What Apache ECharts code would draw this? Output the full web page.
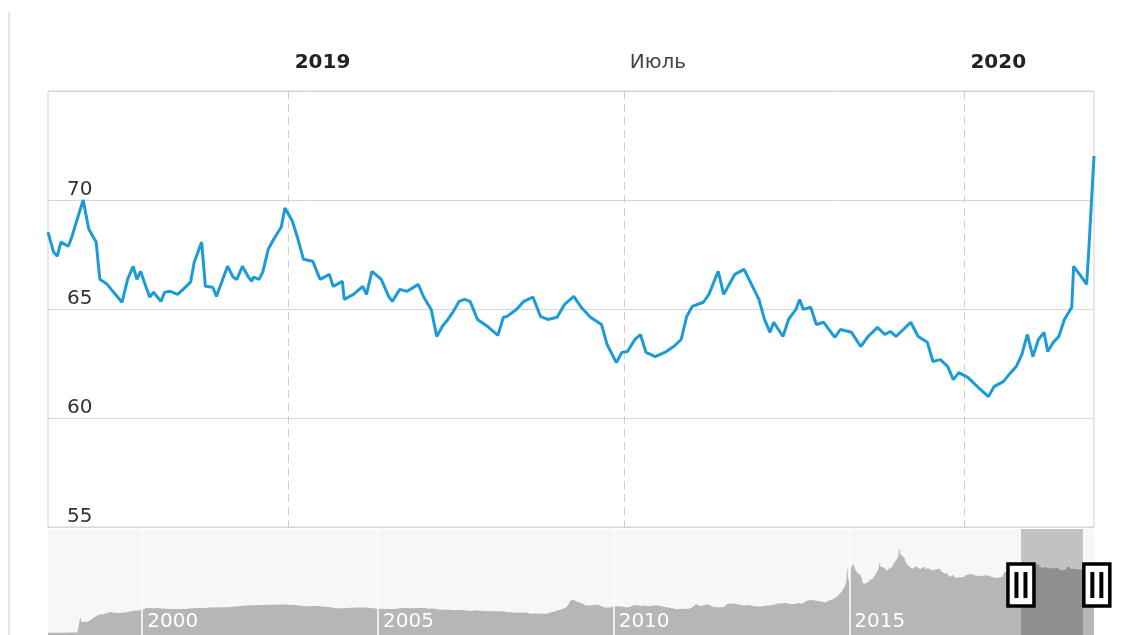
<!DOCTYPE html>
<html>
<head>
<meta charset="utf-8">
<script src="https://cdn.jsdelivr.net/npm/echarts@6/dist/echarts.min.js"></script>
<style>
html,body{margin:0;padding:0;background:#fff;}
#chart{width:1126px;height:635px;}
</style>
</head>
<body>
<div id="chart"></div>
<script>
// ---- main series (USD/RUB, Aug 2018 – Mar 2020) ----
const mainDates = [
'2018-08-24','2018-08-27','2018-08-29','2018-08-31','2018-09-04','2018-09-06','2018-09-08','2018-09-12','2018-09-15','2018-09-19',
'2018-09-21','2018-09-25','2018-09-28','2018-10-03','2018-10-06','2018-10-09','2018-10-11','2018-10-13','2018-10-16','2018-10-18',
'2018-10-20','2018-10-24','2018-10-26','2018-10-29','2018-11-02','2018-11-05','2018-11-09','2018-11-11','2018-11-15','2018-11-17',
'2018-11-21','2018-11-23','2018-11-25','2018-11-29','2018-12-02','2018-12-04','2018-12-07','2018-12-10','2018-12-12','2018-12-13',
'2018-12-16','2018-12-18','2018-12-21','2018-12-24','2018-12-28','2018-12-30','2019-01-03','2019-01-06','2019-01-09','2019-01-14',
'2019-01-18','2019-01-23','2019-01-25','2019-01-30','2019-01-31','2019-02-05','2019-02-10','2019-02-12','2019-02-15','2019-02-20',
'2019-02-24','2019-02-26','2019-03-02','2019-03-06','2019-03-12','2019-03-15','2019-03-19','2019-03-22','2019-03-25','2019-03-28',
'2019-03-31','2019-04-03','2019-04-06','2019-04-09','2019-04-13','2019-04-19','2019-04-24','2019-04-27','2019-04-29','2019-05-04',
'2019-05-08','2019-05-13','2019-05-17','2019-05-21','2019-05-26','2019-05-30','2019-06-04','2019-06-08','2019-06-13','2019-06-19',
'2019-06-22','2019-06-27','2019-06-30','2019-07-03','2019-07-07','2019-07-10','2019-07-13','2019-07-18','2019-07-24','2019-07-28',
'2019-08-01','2019-08-04','2019-08-07','2019-08-13','2019-08-16','2019-08-21','2019-08-24','2019-08-30','2019-09-04','2019-09-08',
'2019-09-12','2019-09-15','2019-09-18','2019-09-20','2019-09-25','2019-09-28','2019-10-02','2019-10-04','2019-10-06','2019-10-10',
'2019-10-13','2019-10-17','2019-10-23','2019-10-26','2019-11-01','2019-11-06','2019-11-10','2019-11-15','2019-11-19','2019-11-22',
'2019-11-25','2019-11-29','2019-12-03','2019-12-07','2019-12-12','2019-12-15','2019-12-19','2019-12-23','2019-12-26','2019-12-29',
'2020-01-03','2020-01-08','2020-01-14','2020-01-17','2020-01-22','2020-01-26','2020-01-29','2020-02-01','2020-02-04','2020-02-07',
'2020-02-10','2020-02-13','2020-02-15','2020-02-18','2020-02-21','2020-02-24','2020-02-28','2020-02-29','2020-03-04','2020-03-07',
'2020-03-08','2020-03-11'
];
const mainValues = [
68.53,67.61,67.42,68.07,67.88,68.34,68.90,70.00,68.67,68.07,
66.36,66.13,65.81,65.31,66.36,66.96,66.36,66.73,66.00,65.54,
65.77,65.35,65.77,65.81,65.67,65.90,66.23,67.15,68.07,66.04,
66.00,65.58,66.04,66.96,66.46,66.36,66.96,66.50,66.27,66.46,
66.36,66.69,67.75,68.21,68.76,69.63,69.03,68.21,67.28,67.19,
66.36,66.59,66.04,66.27,65.44,65.67,66.04,65.67,66.73,66.36,
65.58,65.35,65.90,65.81,66.13,65.54,64.98,63.74,64.20,64.52,
64.89,65.35,65.44,65.35,64.52,64.16,63.79,64.62,64.66,64.98,
65.35,65.54,64.66,64.52,64.62,65.21,65.58,65.08,64.62,64.29,
63.37,62.54,63.01,63.05,63.60,63.83,63.01,62.82,63.05,63.28,
63.60,64.66,65.12,65.31,65.67,66.73,65.67,66.59,66.82,66.13,
65.44,64.52,63.93,64.39,63.74,64.52,64.98,65.44,64.98,65.08,
64.29,64.39,63.70,64.06,63.93,63.28,63.74,64.16,63.83,63.97,
63.74,64.06,64.39,63.74,63.47,62.59,62.68,62.36,61.76,62.08,
61.85,61.44,60.98,61.44,61.67,62.08,62.36,62.91,63.83,62.82,
63.60,63.93,63.05,63.47,63.74,64.52,65.08,66.96,66.50,66.13,
67.42,72.02
];

// ---- navigator series (1998 – Mar 2020) ----
const navDates = [
'1998-01-01','1998-02-01','1998-03-01','1998-04-01','1998-05-01','1998-06-01','1998-07-01','1998-08-01','1998-08-17','1998-08-31','1998-09-09','1998-09-15','1998-10-01','1998-11-01','1998-12-01','1998-12-31',
'1999-02-01','1999-03-01','1999-04-01','1999-05-01','1999-06-01','1999-07-01','1999-08-01','1999-09-01','1999-10-01','1999-11-01','1999-12-01',
'2000-01-01','2000-02-01','2000-03-01','2000-04-01','2000-05-01','2000-06-01','2000-07-01','2000-08-01','2000-09-01','2000-10-01','2000-11-01','2000-12-01',
'2001-01-01','2001-02-01','2001-03-01','2001-04-01','2001-05-01','2001-06-01','2001-07-01','2001-08-01','2001-09-01','2001-10-01','2001-11-01','2001-12-01',
'2002-01-01','2002-02-01','2002-03-01','2002-04-01','2002-05-01','2002-06-01','2002-07-01','2002-08-01','2002-09-01','2002-10-01','2002-11-01','2002-12-01',
'2003-01-01','2003-02-01','2003-03-01','2003-04-01','2003-05-01','2003-06-01','2003-07-01','2003-08-01','2003-09-01','2003-10-01','2003-11-01','2003-12-01',
'2004-01-01','2004-02-01','2004-03-01','2004-04-01','2004-05-01','2004-06-01','2004-07-01','2004-08-01','2004-09-01','2004-10-01','2004-11-01','2004-12-01',
'2005-01-01','2005-02-01','2005-03-01','2005-04-01','2005-05-01','2005-06-01','2005-07-01','2005-08-01','2005-09-01','2005-10-01','2005-11-01','2005-12-01',
'2006-01-01','2006-02-01','2006-03-01','2006-04-01','2006-05-01','2006-06-01','2006-07-01','2006-08-01','2006-09-01','2006-10-01','2006-11-01','2006-12-01',
'2007-01-01','2007-02-01','2007-03-01','2007-04-01','2007-05-01','2007-06-01','2007-07-01','2007-08-01','2007-09-01','2007-10-01','2007-11-01','2007-12-01',
'2008-01-01','2008-02-01','2008-03-01','2008-04-01','2008-05-01','2008-06-01','2008-07-01','2008-08-01','2008-09-01','2008-10-01','2008-11-01','2008-12-01',
'2009-01-01','2009-02-01','2009-02-19','2009-03-01','2009-04-01','2009-05-01','2009-06-01','2009-07-01','2009-08-01','2009-09-01','2009-10-01','2009-11-01','2009-12-01',
'2010-01-01','2010-02-01','2010-03-01','2010-04-01','2010-05-01','2010-06-01','2010-07-01','2010-08-01','2010-09-01','2010-10-01','2010-11-01','2010-12-01',
'2011-01-01','2011-02-01','2011-03-01','2011-04-01','2011-05-01','2011-06-01','2011-07-01','2011-08-01','2011-09-01','2011-10-01','2011-11-01','2011-12-01',
'2012-01-01','2012-02-01','2012-03-01','2012-04-01','2012-05-01','2012-06-01','2012-07-01','2012-08-01','2012-09-01','2012-10-01','2012-11-01','2012-12-01',
'2013-01-01','2013-02-01','2013-03-01','2013-04-01','2013-05-01','2013-06-01','2013-07-01','2013-08-01','2013-09-01','2013-10-01','2013-11-01','2013-12-01',
'2014-01-01','2014-02-01','2014-03-01','2014-04-01','2014-05-01','2014-06-01','2014-07-01','2014-08-01','2014-09-01','2014-10-01','2014-11-01','2014-11-20','2014-12-01','2014-12-10','2014-12-16','2014-12-20','2014-12-26',
'2015-01-01','2015-01-15','2015-01-31','2015-02-05','2015-02-15','2015-03-01','2015-03-15','2015-04-01','2015-04-15','2015-05-01','2015-05-15','2015-06-01','2015-06-15','2015-07-01','2015-07-15','2015-08-01','2015-08-15','2015-08-25','2015-09-01','2015-09-15','2015-10-01','2015-10-15','2015-11-01','2015-11-15','2015-12-01','2015-12-15',
'2016-01-01','2016-01-15','2016-01-22','2016-02-01','2016-02-15','2016-03-01','2016-03-15','2016-04-01','2016-04-15','2016-05-01','2016-05-15','2016-06-01','2016-06-15','2016-07-01','2016-07-15','2016-08-01','2016-08-15','2016-09-01','2016-09-15','2016-10-01','2016-10-15','2016-11-01','2016-11-15','2016-12-01','2016-12-15',
'2017-01-01','2017-01-15','2017-02-01','2017-02-15','2017-03-01','2017-03-15','2017-04-01','2017-04-15','2017-05-01','2017-05-15','2017-06-01','2017-06-15','2017-07-01','2017-07-15','2017-08-01','2017-08-15','2017-09-01','2017-09-15','2017-10-01','2017-10-15','2017-11-01','2017-11-15','2017-12-01','2017-12-15',
'2018-01-01','2018-01-15','2018-02-01','2018-02-15','2018-03-01','2018-03-15','2018-04-01','2018-04-15','2018-05-01','2018-05-15','2018-06-01','2018-06-15','2018-07-01','2018-07-15','2018-08-01','2018-08-15','2018-09-01','2018-09-12','2018-10-01','2018-10-15','2018-11-01','2018-11-15','2018-12-01','2018-12-15',
'2019-01-01','2019-01-15','2019-02-01','2019-02-15','2019-03-01','2019-03-15','2019-04-01','2019-04-15','2019-05-01','2019-05-15','2019-06-01','2019-06-15','2019-07-01','2019-07-15','2019-08-01','2019-08-15','2019-09-01','2019-09-15','2019-10-01','2019-10-15','2019-11-01','2019-11-15','2019-12-01','2019-12-15',
'2020-01-01','2020-01-15','2020-02-01','2020-02-15','2020-03-01','2020-03-11'
];
const navValues = [
5.96,6.03,6.09,6.11,6.14,6.18,6.22,6.24,6.29,7.9,20.8,16.0,16.1,16.0,17.9,20.65,
22.6,22.9,24.2,25.0,24.4,24.2,24.4,24.8,25.6,26.1,26.4,
27.0,28.6,28.7,28.5,28.6,28.3,28.1,27.8,27.8,27.8,27.9,27.8,
28.2,28.4,28.7,28.7,28.8,29.1,29.1,29.3,29.3,29.4,29.5,29.8,
30.1,30.6,30.9,31.1,31.2,31.3,31.4,31.5,31.6,31.6,31.7,31.8,
31.8,31.8,31.5,31.4,31.1,30.6,30.4,30.4,30.6,30.6,29.9,29.8,
29.5,28.5,28.5,28.5,28.7,29.0,29.0,29.1,29.2,29.2,28.8,28.4,
27.7,28.0,27.8,27.8,27.8,28.1,28.7,28.6,28.4,28.5,28.8,28.8,
28.8,28.1,28.2,27.8,27.2,27.0,27.0,26.8,26.7,26.8,26.8,26.3,
26.3,26.6,26.3,26.0,25.8,25.9,25.8,25.5,25.7,24.9,24.9,24.4,
24.5,24.5,24.3,23.5,23.6,23.7,23.4,23.4,24.6,25.4,26.8,27.7,
29.4,35.4,36.4,35.7,34.0,33.0,31.0,31.1,31.2,31.8,30.1,28.9,29.2,
30.2,30.4,30.1,29.4,29.3,31.3,31.2,30.2,30.9,30.4,30.8,31.3,
30.5,29.7,29.2,28.4,27.5,27.9,28.1,27.8,29.2,32.1,30.5,31.0,
32.2,30.1,29.3,29.3,29.4,32.5,32.8,32.4,32.0,31.0,31.4,31.1,
30.4,30.0,30.2,31.1,31.1,31.9,32.8,33.0,33.3,32.4,32.4,33.2,
32.7,35.2,36.1,35.7,35.0,34.7,33.8,35.7,36.9,39.4,43.4,46.9,49.3,54.0,67.8,60.7,52.0,
56.2,65.5,68.9,69.7,64.5,61.3,62.0,58.5,51.6,50.8,49.7,52.9,54.8,55.5,57.1,61.0,65.0,70.8,66.4,67.9,65.5,62.5,64.1,65.8,66.7,70.0,
72.9,76.0,83.6,77.8,78.4,74.9,70.3,67.6,66.7,64.6,66.2,66.9,65.8,64.3,63.9,66.4,64.2,65.4,64.8,63.2,62.8,63.7,65.3,64.8,62.1,
60.7,59.6,60.0,57.0,58.5,58.8,56.4,56.4,56.9,56.9,56.9,57.3,59.1,59.6,59.8,60.1,58.4,57.6,57.9,57.3,58.3,60.0,58.6,58.7,
57.6,56.5,56.3,56.2,56.3,57.0,57.3,61.5,62.0,61.9,62.6,62.3,62.8,62.4,62.8,66.8,67.8,70.0,65.6,66.0,65.7,68.0,66.4,66.5,
69.5,67.0,65.5,66.5,65.9,65.5,64.9,64.5,65.0,65.3,65.5,64.3,63.0,63.0,63.6,65.7,66.6,64.5,64.9,64.3,63.9,64.1,64.2,62.6,
61.9,61.0,62.9,63.1,66.9,72.0
];

// ---- axis ticks ----
const topTickDates = ['2019-01-01', '2019-07-01', '2020-01-01'];
const topTickLabels = ['2019', 'Июль', '2020'];
const topTickBold = [true, false, true];
const navTickDates = ['2000-01-01', '2005-01-01', '2010-01-01', '2015-01-01'];
const navTickLabels = ['2000', '2005', '2010', '2015'];

// ---- ranges / navigator window ----
const mainStart = '2018-08-24', mainEnd = '2020-03-11';
const navStart = '1998-01-01', navEnd = '2020-03-11';
const windowStart = '2018-08-24', windowEnd = '2019-12-16';
const handleDates = ['2018-08-23', '2020-04-02'];
const handleLevel = 49.7;

const t = s => echarts.number.parseDate(s).getTime();
const FONT = 'DejaVu Sans';

const topTickValues = topTickDates.map(t);
const navTickValues = navTickDates.map(t);

const chart = echarts.init(document.getElementById('chart'), null, {renderer: 'canvas'});
chart.setOption({
  animation: false,
  backgroundColor: '#fff',
  textStyle: {fontFamily: FONT},
  grid: [
    {left: 48, right: 32, top: 91, bottom: 108, show: true, borderColor: '#d2d2d2', borderWidth: 1, backgroundColor: '#fff'},
    {left: 48, right: 32, top: 529, bottom: 0, show: true, borderWidth: 0, backgroundColor: '#f7f7f7'}
  ],
  xAxis: [
    {
      type: 'value', gridIndex: 0, position: 'top',
      min: t(mainStart), max: t(mainEnd),
      axisLine: {show: false},
      axisTick: {show: false, customValues: topTickValues},
      axisLabel: {
        customValues: topTickValues,
        margin: 18, align: 'left',
        formatter: function (v) {
          const i = topTickValues.indexOf(v);
          if (i < 0) return '';
          return (topTickBold[i] ? '{b|' : '{n|') + topTickLabels[i] + '}';
        },
        rich: {
          b: {fontFamily: FONT, fontSize: 20, fontWeight: 'bold', color: '#222', padding: [0, 0, 0, 6]},
          n: {fontFamily: FONT, fontSize: 20, color: '#444', padding: [0, 0, 0, 6]}
        }
      },
      splitLine: {show: true, lineStyle: {color: '#cfcfcf', width: 1, type: [8, 5]}}
    },
    {
      type: 'value', gridIndex: 1, position: 'bottom', z: 20,
      min: t(navStart), max: t(navEnd),
      axisLine: {show: false},
      axisTick: {show: false, customValues: navTickValues},
      axisLabel: {
        customValues: navTickValues,
        inside: true, margin: 3, align: 'left',
        color: '#fff', fontSize: 20, fontFamily: FONT, padding: [0, 0, 0, 5],
        formatter: function (v) {
          const i = navTickValues.indexOf(v);
          return i < 0 ? '' : navTickLabels[i];
        }
      },
      splitLine: {show: true, lineStyle: {color: '#ffffff', width: 1.5}}
    }
  ],
  yAxis: [
    {
      type: 'value', gridIndex: 0, min: 55, max: 75, interval: 5,
      axisLine: {show: false}, axisTick: {show: false},
      axisLabel: {inside: true, margin: 19, verticalAlign: 'bottom', color: '#333', fontSize: 20, fontFamily: FONT, showMaxLabel: false},
      splitLine: {show: true, lineStyle: {color: '#d6d6d6', width: 1}}
    },
    {
      type: 'value', gridIndex: 1, min: 4, max: 101, show: false,
      splitLine: {show: false}
    }
  ],
  series: [
    {
      type: 'line', xAxisIndex: 0, yAxisIndex: 0, z: 3,
      data: mainDates.map((d, i) => [t(d), mainValues[i]]),
      showSymbol: false, symbol: 'none',
      lineStyle: {color: '#1d9bd7', width: 3},
      silent: true
    },
    {
      type: 'line', xAxisIndex: 1, yAxisIndex: 1, z: 2,
      data: navDates.map((d, i) => [t(d), navValues[i]]),
      showSymbol: false, symbol: 'none',
      lineStyle: {width: 0, opacity: 0},
      areaStyle: {color: '#b6b6b6', opacity: 1},
      silent: true
    },
    {
      type: 'line', xAxisIndex: 1, yAxisIndex: 1, z: 10,
      data: [], silent: true,
      markArea: {silent: true, z: 10, itemStyle: {color: 'rgba(0,0,0,0.21)'},
        data: [[{xAxis: t(windowStart)}, {xAxis: t(windowEnd)}]]}
    }
  ]
});

// page edge + navigator handles (handles placed through the navigator axes)
const graphicEls = [
  {type: 'line', silent: true, shape: {x1: 9, y1: 12, x2: 9, y2: 635}, style: {stroke: '#e6e6e6', lineWidth: 2}}
];
handleDates.forEach((d) => {
  const p = chart.convertToPixel({gridIndex: 1}, [t(d), handleLevel]);
  graphicEls.push({type: 'rect', silent: true, z: 100,
    shape: {x: p[0] - 13, y: p[1] - 21, width: 26, height: 42},
    style: {fill: '#fff', stroke: '#000', lineWidth: 3.5}});
  graphicEls.push({type: 'rect', silent: true, z: 101,
    shape: {x: p[0] - 6.5, y: p[1] - 13, width: 4, height: 26}, style: {fill: '#000'}});
  graphicEls.push({type: 'rect', silent: true, z: 101,
    shape: {x: p[0] + 2.5, y: p[1] - 13, width: 4, height: 26}, style: {fill: '#000'}});
});
chart.setOption({graphic: graphicEls});
</script>
</body>
</html>
